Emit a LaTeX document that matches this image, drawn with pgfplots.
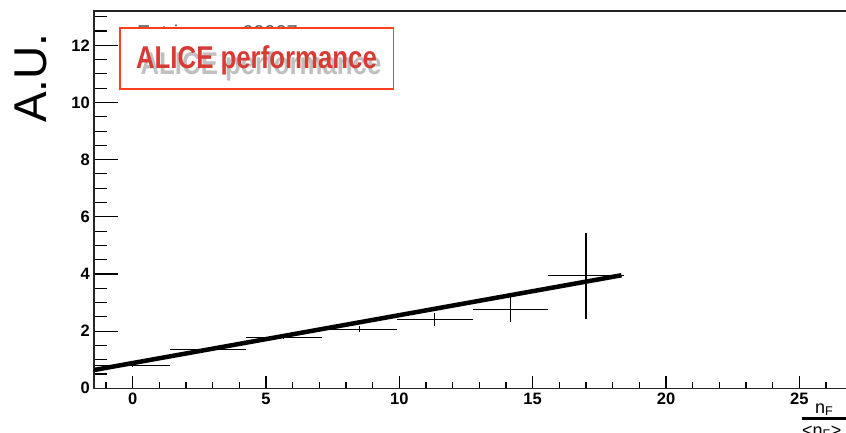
\documentclass[border=0pt]{standalone}
\usepackage{pgfplots}
\pgfplotsset{compat=1.18}
\usepackage{pgfplotstable}
\usepackage{fontspec}
\setmainfont{Liberation Sans}

\definecolor{alicered}{RGB}{216,58,52}
\definecolor{aliceframe}{RGB}{255,64,32}
\definecolor{shadowgrey}{RGB}{192,192,192}

% bin centre, half bin width, value, error
\pgfplotstableread{
x     ex    y     ey
0.00  1.417 0.81  0.05
2.83  1.417 1.36  0.05
5.67  1.417 1.77  0.05
8.50  1.417 2.07  0.10
11.33 1.417 2.41  0.24
14.17 1.417 2.77  0.44
17.00 1.417 3.94  1.50
}\datatable

% linear fit end points
\pgfplotstableread{
x      y
-1.45  0.64
18.33  3.955
}\fittable

\pgfplotsset{
  frame/.style={
    scale only axis, width=756pt, height=377.3pt,
    at={(94pt,43.7pt)}, anchor=south west,
    xmin=-1.45, xmax=26.9, ymin=0, ymax=13.2,
    axis line style={line width=1.2pt, black!85},
    tick style={line width=1.1pt, black},
    tick align=inside,
    /pgf/number format/assume math mode=true,
    ticklabel style={font=\fontsize{16.5}{18}\selectfont\bfseries, inner sep=0pt},
  }
}

\begin{document}
\begin{tikzpicture}
\useasboundingbox (0,0) rectangle (846pt,432pt);

% y axis ticks
\begin{axis}[frame,
  xtick=\empty,
  ytick={0,2,...,12}, ytick pos=left,
  minor ytick={0,0.5,...,13},
  major tick length=24pt, minor tick length=13pt,
  yticklabel style={anchor=east, xshift=-4pt},
]
\end{axis}

% x axis ticks and data
\begin{axis}[frame,
  ytick=\empty,
  xtick={0,5,...,25}, xtick pos=bottom,
  minor xtick={-1,0,...,26},
  major tick length=12pt, minor tick length=6pt,
  xticklabel style={anchor=north, yshift=-4.5pt},
]
\addplot[only marks, mark=text, text mark={},
  error bars/.cd, x dir=both, x explicit, y dir=both, y explicit,
  error mark=none, error bar style={line width=1.1pt, black}]
  table[x=x, y=y, x error=ex, y error=ey] {\datatable};
\addplot[black, line width=4.5pt] table[x=x, y=y] {\fittable};
\end{axis}

% statistics text partly covered by the label box
\node[anchor=north west, inner sep=0, text=black!65, font=\fontsize{20}{22}\selectfont] at (137pt,407pt) {Entries};
\node[anchor=north west, inner sep=0, text=black!65, font=\fontsize{20}{22}\selectfont] at (242pt,407pt) {60007};

% performance label
\draw[aliceframe, line width=1.6pt, fill=white] (120pt,342.7pt) rectangle (393.3pt,403.7pt);
\node[anchor=base, inner sep=0, xscale=0.86, yscale=1.05, text=shadowgrey, font=\fontsize{30}{32}\selectfont\bfseries] at (261pt,357pt) {ALICE performance};
\node[anchor=base, inner sep=0, xscale=0.86, yscale=1.05, text=alicered, font=\fontsize{30}{32}\selectfont\bfseries] at (256.5pt,363.7pt) {ALICE performance};

% axis titles
\node[rotate=90, anchor=base west, inner sep=0, font=\fontsize{46}{48}\selectfont] at (46.7pt,309pt) {A.U.};
\node[anchor=base west, inner sep=0, font=\fontsize{18}{20}\selectfont] at (815pt,19pt) {n\textsubscript{F}};
\draw[line width=2.5pt] (801.7pt,13.7pt) -- (850pt,13.7pt);
\node[anchor=base west, inner sep=0, font=\fontsize{18}{20}\selectfont] at (802pt,-4pt) {<n\textsubscript{F}>};
\end{tikzpicture}
\end{document}
